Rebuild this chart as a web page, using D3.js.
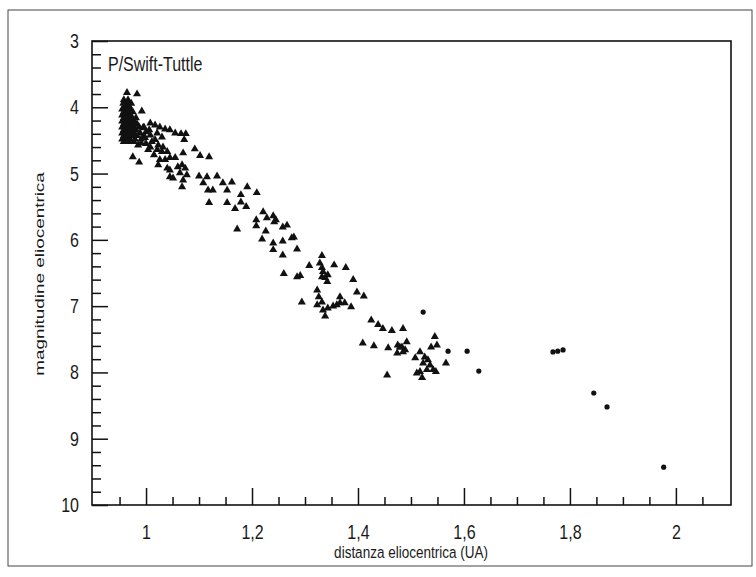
<!DOCTYPE html>
<html lang="it">
<head>
<meta charset="utf-8">
<title>P/Swift-Tuttle</title>
<script src="https://cdnjs.cloudflare.com/ajax/libs/d3/7.8.5/d3.min.js"></script>
<style>
    body { margin: 0; background: #fff; }
    svg { display: block; font-family: "Liberation Sans", Arial, Helvetica, sans-serif; }
    .tick text { font-size: 16px; fill: #1a1a1a; }
</style>
</head>
<body>
<svg id="chart" width="756" height="577"></svg>
<script>
    // tick labels
    const xTicks = [1, 1.2, 1.4, 1.6, 1.8, 2];
    const yTicks = [3, 4, 5, 6, 7, 8, 9, 10];

    // osservazioni (triangoli): distanza eliocentrica (UA) e magnitudine
    const triDist = [
        0.958, 0.966,
        0.957, 0.964, 0.972,
        0.960, 0.968,
        0.955, 0.962, 0.970,
        0.958, 0.966, 0.975,
        0.955, 0.962, 0.970,
        0.958, 0.966, 0.974, 0.981,
        0.955, 0.962, 0.970, 0.977,
        0.958, 0.966, 0.974, 0.983,
        0.955, 0.962, 0.970, 0.977, 0.987,
        0.958, 0.966, 0.974, 0.981,
        0.955, 0.962, 0.970, 0.977, 0.989,
        0.958, 0.966, 0.974, 0.983, 0.996,
        0.955, 0.962, 0.970, 0.979, 0.991,
        0.958, 0.968, 0.977,
        0.964, 0.983, 0.992,
        1.008, 1.017, 1.026, 1.036, 1.045, 1.055, 1.066, 1.075, 1.072,
        1.006, 1.008, 1.021, 1.030, 1.017, 1.023, 1.032, 1.030, 1.040, 1.026, 1.036, 1.045, 1.023, 1.040, 1.008, 1.021,
        0.994, 1.000, 0.998, 0.991, 1.000, 1.011, 1.004, 1.015, 0.996, 0.985,
        0.975, 0.987,
        1.055, 1.070, 1.092, 1.102, 1.119,
        1.060, 1.068, 1.074, 1.064, 1.077, 1.070, 1.068, 1.045, 1.051, 1.045,
        1.100, 1.115, 1.134, 1.108, 1.145, 1.162,
        1.117, 1.126, 1.153,
        1.191, 1.209,
        1.119, 1.153, 1.179, 1.179, 1.189, 1.168,
        1.221, 1.208, 1.208, 1.228, 1.240, 1.242, 1.245, 1.172, 1.226, 1.258, 1.266, 1.219,
        1.240, 1.240, 1.258, 1.275, 1.279, 1.258, 1.285,
        1.260, 1.285, 1.291,
        1.332, 1.328, 1.332, 1.334, 1.332, 1.338, 1.343, 1.342, 1.308, 1.355, 1.377, 1.391,
        1.398, 1.411,
        1.323, 1.326, 1.332, 1.323, 1.334, 1.338, 1.343, 1.353, 1.360, 1.366, 1.366, 1.375, 1.387,
        1.294,
        1.425, 1.438, 1.447, 1.464, 1.485,
        1.409, 1.430, 1.457, 1.475, 1.483, 1.492, 1.489, 1.474, 1.485, 1.479,
        1.508,
        1.545, 1.549, 1.538,
        1.517, 1.526, 1.532, 1.523, 1.536, 1.542, 1.530, 1.517, 1.511, 1.521, 1.547,
        1.566, 1.455
    ];
    const triMag = [
        3.89, 3.89,
        3.94, 3.94, 3.94,
        3.98, 3.98,
        4.03, 4.03, 4.03,
        4.07, 4.07, 4.07,
        4.12, 4.12, 4.12,
        4.16, 4.16, 4.16, 4.16,
        4.21, 4.21, 4.21, 4.21,
        4.25, 4.25, 4.25, 4.25,
        4.30, 4.30, 4.30, 4.30, 4.30,
        4.34, 4.34, 4.34, 4.34,
        4.39, 4.39, 4.39, 4.39, 4.39,
        4.43, 4.43, 4.43, 4.43, 4.43,
        4.48, 4.48, 4.48, 4.48, 4.48,
        4.52, 4.52, 4.52,
        3.78, 3.80, 4.06,
        4.24, 4.27, 4.30, 4.33, 4.34, 4.39, 4.40, 4.40, 4.49,
        4.34, 4.42, 4.39, 4.45, 4.49, 4.57, 4.60, 4.67, 4.67, 4.79, 4.79, 4.76, 4.87, 4.92, 4.60, 4.64,
        4.31, 4.37, 4.46, 4.54, 4.55, 4.52, 4.64, 4.72, 4.30, 4.57,
        4.75, 4.83,
        4.76, 4.69, 4.63, 4.73, 4.75,
        4.90, 4.87, 4.92, 4.99, 5.02, 5.10, 5.20, 5.05, 5.07, 4.95,
        5.04, 5.05, 5.04, 5.14, 5.14, 5.13,
        5.25, 5.25, 5.25,
        5.20, 5.29,
        5.44, 5.44, 5.32, 5.43, 5.50, 5.53,
        5.58, 5.70, 5.79, 5.67, 5.64, 5.73, 5.70, 5.84, 5.87, 5.81, 5.78, 5.99,
        6.05, 6.15, 6.02, 5.97, 5.96, 6.23, 6.14,
        6.51, 6.56, 6.54,
        6.24, 6.35, 6.42, 6.48, 6.56, 6.57, 6.53, 6.63, 6.39, 6.38, 6.42, 6.60,
        6.79, 6.85,
        6.76, 6.86, 6.94, 6.98, 7.06, 7.15, 7.03, 7.00, 6.98, 6.95, 6.86, 6.95, 7.01,
        6.94,
        7.21, 7.28, 7.34, 7.37, 7.34,
        7.56, 7.60, 7.63, 7.59, 7.62, 7.54, 7.66, 7.71, 7.69, 7.62,
        7.78,
        7.46, 7.59, 7.62,
        7.69, 7.77, 7.81, 7.86, 7.89, 7.96, 7.96, 7.99, 8.01, 8.08, 7.99,
        7.86, 8.04
    ];

    // osservazioni (punti)
    const dotDist = [1.523, 1.570, 1.606, 1.628, 1.768, 1.777, 1.787, 1.845, 1.870, 1.977];
    const dotMag = [7.09, 7.68, 7.68, 7.98, 7.69, 7.68, 7.66, 8.31, 8.52, 9.43];

    const margin = { left: 92, top: 41, right: 731, bottom: 505 };
    const stretch = 1.28;   // the scan is taller than wide

    const svg = d3.select('#chart');

    const x = d3.scaleLinear().domain([0.898, 2.104]).range([margin.left, margin.right]);
    const y = d3.scaleLinear().domain([3, 10]).range([margin.top, margin.bottom]);

    // outer frame
    svg.append('rect')
        .attr('x', 8).attr('y', 10)
        .attr('width', 744).attr('height', 556)
        .attr('fill', 'none')
        .attr('stroke', '#444')
        .attr('stroke-width', 1);

    const fmtX = d => String(+d.toFixed(1)).replace('.', ',');

    // stretch tick labels vertically around their own position
    function tallText(g) {
        g.selectAll('.tick text').each(function () {
            const t = d3.select(this);
            const ty = +t.attr('y') || 0;
            t.attr('y', 0).attr('transform', `translate(0,${ty}) scale(1,${stretch})`);
        });
    }

    // minor x ticks
    const xMinor = d3.range(0.95, 2.06, 0.05).filter(v => !xTicks.some(t => Math.abs(t - v) < 1e-6));
    svg.append('g')
        .attr('transform', `translate(0,${margin.bottom})`)
        .call(d3.axisBottom(x).tickValues(xMinor).tickSize(-8).tickFormat(''))
        .call(g => g.select('.domain').remove())
        .call(g => g.selectAll('line').attr('stroke', '#111').attr('stroke-width', 1.5));

    svg.append('g')
        .attr('transform', `translate(0,${margin.bottom})`)
        .call(d3.axisBottom(x).tickValues(xTicks).tickSize(-17).tickPadding(19).tickFormat(fmtX))
        .call(g => g.select('.domain').remove())
        .call(g => g.selectAll('line').attr('stroke', '#111').attr('stroke-width', 1.5))
        .call(tallText);

    // minor y ticks
    const yMinor = d3.range(3.2, 10, 0.2).filter(v => Math.abs(v - Math.round(v)) > 1e-6);
    svg.append('g')
        .attr('transform', `translate(${margin.left},0)`)
        .call(d3.axisLeft(y).tickValues(yMinor).tickSize(-9).tickFormat(''))
        .call(g => g.select('.domain').remove())
        .call(g => g.selectAll('line').attr('stroke', '#111').attr('stroke-width', 1.5));

    svg.append('g')
        .attr('transform', `translate(${margin.left},0)`)
        .call(d3.axisLeft(y).tickValues(yTicks).tickSize(-16).tickPadding(13).tickFormat(d3.format('d')))
        .call(g => g.select('.domain').remove())
        .call(g => g.selectAll('line').attr('stroke', '#111').attr('stroke-width', 1.5))
        .call(tallText);

    // plot box
    svg.append('rect')
        .attr('x', margin.left).attr('y', margin.top)
        .attr('width', margin.right - margin.left)
        .attr('height', margin.bottom - margin.top)
        .attr('fill', 'none')
        .attr('stroke', '#111')
        .attr('stroke-width', 1.6);

    // points
    const tri = d3.symbol().type(d3.symbolTriangle).size(28);
    svg.append('g')
        .selectAll('path')
        .data(triDist.map((d, i) => [d, triMag[i]]))
        .enter().append('path')
        .attr('d', tri)
        .attr('transform', d => `translate(${x(d[0])},${y(d[1])})`)
        .attr('fill', '#111');

    svg.append('g')
        .selectAll('circle')
        .data(dotDist.map((d, i) => [d, dotMag[i]]))
        .enter().append('circle')
        .attr('cx', d => x(d[0]))
        .attr('cy', d => y(d[1]))
        .attr('r', 2.6)
        .attr('fill', '#111');

    // labels
    svg.append('text')
        .attr('transform', `translate(108,71) scale(1,${stretch})`)
        .attr('font-size', 16)
        .attr('fill', '#1a1a1a')
        .text('P/Swift-Tuttle');

    svg.append('text')
        .attr('transform', `translate(411,558) scale(1,${stretch})`)
        .attr('text-anchor', 'middle')
        .attr('font-size', 13.5)
        .attr('fill', '#1a1a1a')
        .text('distanza eliocentrica (UA)');

    svg.append('text')
        .attr('transform', `translate(44,274) rotate(-90) scale(1.4,1)`)
        .attr('text-anchor', 'middle')
        .attr('font-size', 13.5)
        .attr('fill', '#1a1a1a')
        .text('magnitudine eliocentrica');
</script>
</body>
</html>
